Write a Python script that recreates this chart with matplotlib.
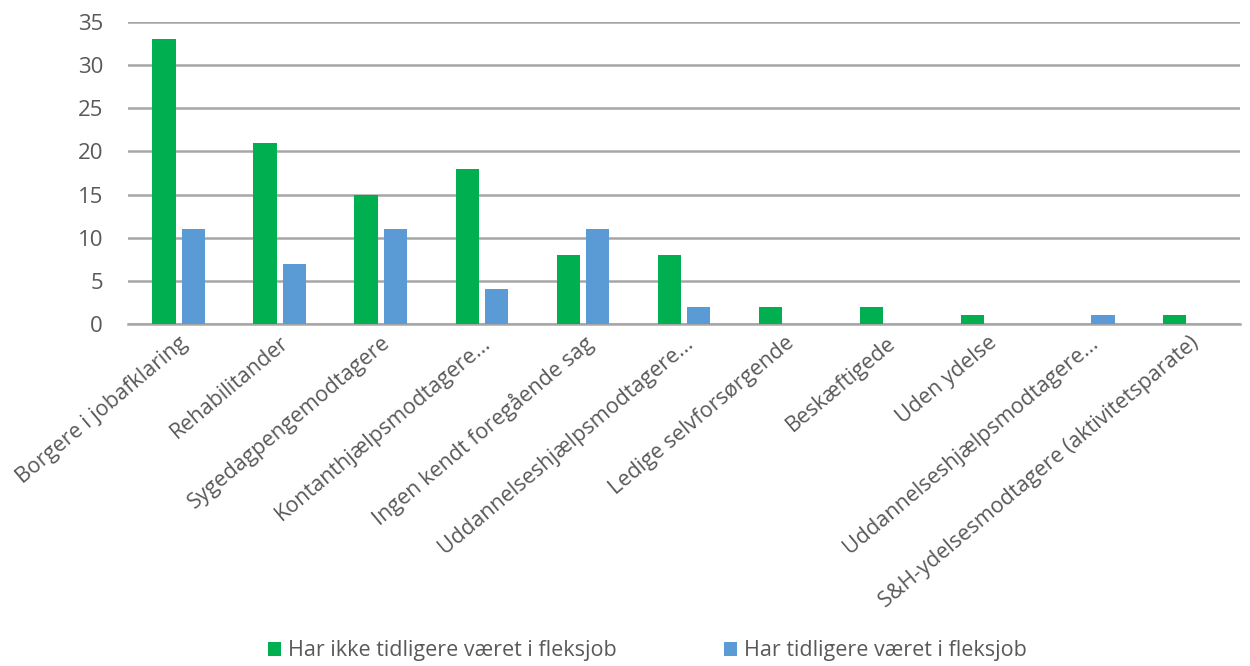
import numpy as np
import matplotlib
matplotlib.use("Agg")
import matplotlib.pyplot as plt

plt.rcParams['font.family'] = ['Open Sans', 'DejaVu Sans']

categories = ["Borgere i jobafklaring", "Rehabilitander", "Sygedagpengemodtagere",
              "Kontanthjælpsmodtagere...", "Ingen kendt foregående sag",
              "Uddannelseshjælpsmodtagere...", "Ledige selvforsørgende", "Beskæftigede",
              "Uden ydelse", "Uddannelseshjælpsmodtagere...",
              "S&H-ydelsesmodtagere (aktivitetsparate)"]
ikke_fleksjob = [33, 21, 15, 18, 8, 8, 2, 2, 1, 0, 1]
tidl_fleksjob = [11, 7, 11, 4, 11, 2, 0, 0, 0, 1, 0]
series_names = ["Har ikke tidligere været i fleksjob", "Har tidligere været i fleksjob"]
colors = ['#00b050', '#5b9bd5']

fig = plt.figure(figsize=(12.5, 6.66), dpi=100)
ax = fig.add_axes([0.1024, 0.5135, 0.8896, 0.4535])

x = np.arange(len(categories))
w = 0.23
gap = 0.06
ax.bar(x - (w + gap) / 2, ikke_fleksjob, w, color=colors[0], label=series_names[0], zorder=3)
ax.bar(x + (w + gap) / 2, tidl_fleksjob, w, color=colors[1], label=series_names[1], zorder=3)

ax.set_xlim(-0.5, len(categories) - 0.5)
ax.set_ylim(0, 35)
ax.set_yticks(range(0, 36, 5))
ax.grid(axis='y', color='#a6a6a6', linewidth=1.8, zorder=0)
for s in ['top', 'right', 'left']:
    ax.spines[s].set_visible(False)
ax.spines['bottom'].set_color('#a6a6a6')
ax.spines['bottom'].set_linewidth(1.8)
ax.tick_params(axis='both', length=0, colors='#595959')
ax.tick_params(axis='y', pad=18)
ax.tick_params(axis='x', pad=6)
plt.setp(ax.get_yticklabels(), fontsize=16)

ax.set_xticks(x)
ax.set_xticklabels(categories, rotation=40, ha='right', rotation_mode='anchor', fontsize=15.5)

fig.legend(loc='lower center', ncol=2, frameon=False, fontsize=15.5,
           bbox_to_anchor=(0.518, -0.022), handlelength=0.6, handleheight=0.6,
           handletextpad=0.3, columnspacing=5.0, labelcolor='#595959')

fig.savefig("out.png", dpi=100)
